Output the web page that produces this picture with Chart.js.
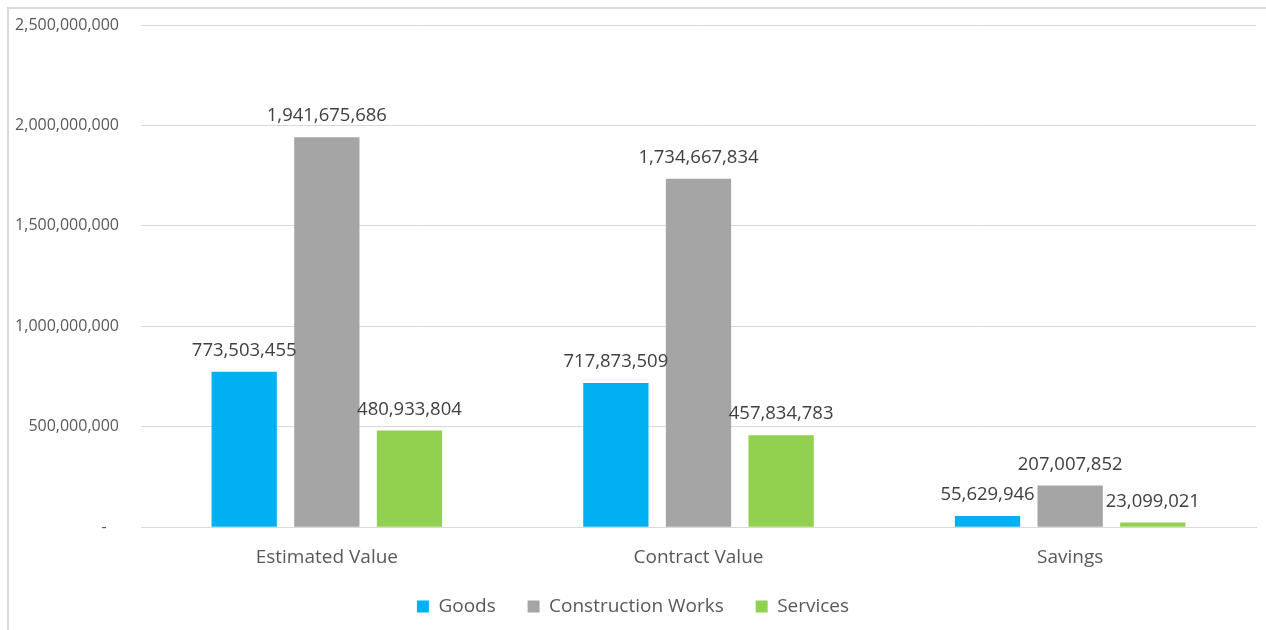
<!DOCTYPE html>
<html>
<head>
<meta charset="utf-8">
<script src="https://cdn.jsdelivr.net/npm/chart.js@4"></script>
<style>
  html, body { margin: 0; padding: 0; background: #fff; overflow: hidden; }
  #frame { position: absolute; left: 7px; top: 7px; width: 1400px; height: 800px; border: 2px solid #d9d9d9; }
  #wrap { position: absolute; left: 0; top: 0; width: 1266px; height: 628px; }
</style>
</head>
<body>
<div id="frame"></div>
<div id="wrap"><canvas id="myChart"></canvas></div>
<script>
var categories = ['Estimated Value', 'Contract Value', 'Savings'];
var goods = [773503455, 717873509, 55629946];
var constructionWorks = [1941675686, 1734667834, 207007852];
var services = [480933804, 457834783, 23099021];
var yTicks = [0, 500000000, 1000000000, 1500000000, 2000000000, 2500000000];

var textColor = '#595959';
var fontFamily = "'Open Sans', 'Noto Sans', sans-serif";

function fmt(v) {
    if (v === 0) return '-   ';
    return v.toLocaleString('en-US');
}

// draws the value above each bar
var valueLabels = {
    id: 'valueLabels',
    afterDatasetsDraw: function(chart) {
        var ctx = chart.ctx;
        ctx.save();
        ctx.fillStyle = '#404040';
        ctx.font = '18.5px ' + fontFamily;
        ctx.textAlign = 'center';
        ctx.textBaseline = 'middle';
        chart.data.datasets.forEach(function(ds, i) {
            var meta = chart.getDatasetMeta(i);
            meta.data.forEach(function(bar, j) {
                ctx.fillText(fmt(ds.data[j]), bar.x, bar.y - 21);
            });
        });
        ctx.restore();
    }
};

var ctx = document.getElementById('myChart').getContext('2d');
var myChart = new Chart(ctx, {
    type: 'bar',
    data: {
        labels: categories,
        datasets: [
            { label: 'Goods', data: goods, backgroundColor: '#00B0F0' },
            { label: 'Construction Works', data: constructionWorks, backgroundColor: '#A5A5A5' },
            { label: 'Services', data: services, backgroundColor: '#92D050' }
        ]
    },
    options: {
        responsive: true,
        maintainAspectRatio: false,
        animation: false,
        categoryPercentage: 0.667,
        barPercentage: 0.79,
        layout: { padding: { left: 10, right: 10, top: 25, bottom: 2 } },
        plugins: {
            tooltip: { enabled: false },
            legend: {
                position: 'bottom',
                labels: {
                    boxWidth: 12,
                    boxHeight: 12,
                    padding: 17,
                    color: textColor,
                    font: { family: fontFamily, size: 19 },
                    generateLabels: function(chart) {
                        var items = Chart.defaults.plugins.legend.labels.generateLabels(chart);
                        items.forEach(function(it, i) {
                            if (i < items.length - 1) it.text = it.text + '   ';
                        });
                        return items;
                    }
                }
            }
        },
        scales: {
            x: {
                grid: { display: false },
                border: { color: '#d9d9d9', width: 1 },
                ticks: { color: textColor, padding: 11, font: { family: fontFamily, size: 19 } }
            },
            y: {
                min: 0,
                max: 2500000000,
                afterFit: function(scale) {
                    scale.width = 131;
                    scale.paddingTop = 0;
                    scale.paddingBottom = 0;
                },
                afterBuildTicks: function(scale) {
                    scale.ticks = yTicks.map(function(v) { return { value: v }; });
                },
                grid: { color: '#d9d9d9', drawTicks: false },
                border: { display: false },
                ticks: {
                    color: textColor,
                    padding: 22,
                    font: { family: fontFamily, size: 16 },
                    callback: function(v) { return fmt(v); }
                }
            }
        }
    },
    plugins: [valueLabels]
});
</script>
</body>
</html>
